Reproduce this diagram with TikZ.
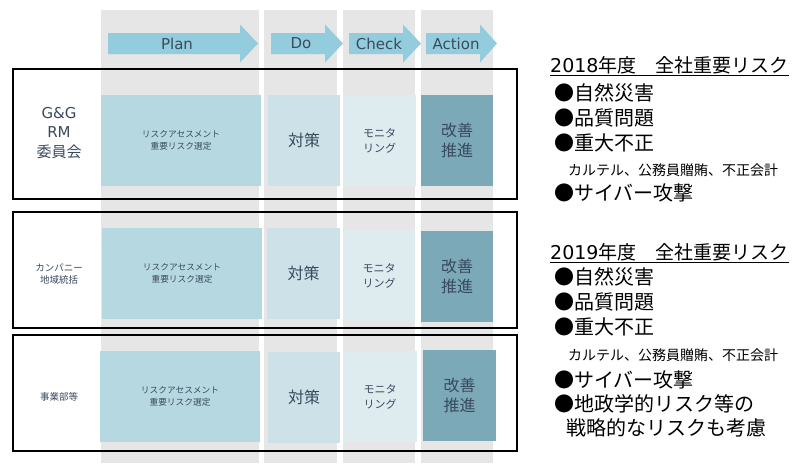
\documentclass[tikz,border=0pt]{standalone}
\usepackage{fontspec}
\setmainfont{Noto Sans CJK JP}
\newfontfamily\dv{DejaVu Sans}
\definecolor{colgray}{HTML}{E6E6E6}
\definecolor{arrowc}{HTML}{93CDDD}
\definecolor{planc}{HTML}{B6D8E1}
\definecolor{doc}{HTML}{CCE2E8}
\definecolor{checkc}{HTML}{DEEBEF}
\definecolor{actc}{HTML}{7BA9B7}
\definecolor{txtc}{HTML}{3A4A5E}
\tikzset{
  colbg/.style={fill=colgray, draw=none},
  frame/.style={draw=black, line width=1.8pt},
  cell/.style={draw=none, inner sep=0pt, outer sep=0pt, text=txtc, align=center},
  lbl/.style={text=txtc, align=center, inner sep=0pt},
  rtxt/.style={anchor=west, inner sep=0pt, text=black},
  small/.style={font=\fontsize{8.7}{11.5}\selectfont},
  mon/.style={font=\fontsize{11}{15}\selectfont},
  big/.style={font=\fontsize{16}{20}\selectfont},
}
\newcommand{\pdcaarrow}[5]{% name, x0, xh, xt, label
  \fill[arrowc] (#2,33) -- (#3,33) -- (#3,24.5) -- (#4,43.5) -- (#3,62.5) -- (#3,54) -- (#2,54) -- cycle;
  \node[lbl, font=\dv\fontsize{15}{15}\selectfont] (#1) at ({(#2+#3)/2+3},43.5) {#5};
}
\begin{document}
\begin{tikzpicture}[x=1pt, y=-1pt]
\useasboundingbox (0,0) rectangle (794,463);
% gray columns
\fill[colbg] (101,10) rectangle (259,463);
\fill[colbg] (264,10) rectangle (337,463);
\fill[colbg] (343,10) rectangle (415,463);
\fill[colbg] (421,10) rectangle (493,463);
% arrows
\pdcaarrow{plan}{108}{240}{258}{Plan}
\pdcaarrow{do}{271}{325}{343}{Do}
\pdcaarrow{check}{349}{403}{421}{Check}
\pdcaarrow{action}{426}{480}{497}{Action}
% frames
\node[frame, minimum width=504pt, minimum height=130pt, inner sep=0pt] (row1) at (265,134) {};
\node[frame, minimum width=504pt, minimum height=116pt, inner sep=0pt] (row2) at (265,270) {};
\node[frame, minimum width=504pt, minimum height=116pt, inner sep=0pt] (row3) at (265,393) {};
% row 1
\node[cell, small, fill=planc, minimum width=160pt, minimum height=91pt] (p1) at (181,140.5) {リスクアセスメント\\重要リスク選定};
\node[cell, big, fill=doc, minimum width=72pt, minimum height=91pt] (d1) at (304,140.5) {対策};
\node[cell, mon, fill=checkc, minimum width=73pt, minimum height=91pt] (c1) at (379.5,140.5) {モニタ\\リング};
\node[cell, big, fill=actc, minimum width=72pt, minimum height=91pt] (a1) at (457,140.5) {改善\\推進};
% row 2
\node[cell, small, fill=planc, minimum width=160pt, minimum height=91pt] (p2) at (182,273.5) {リスクアセスメント\\重要リスク選定};
\node[cell, big, fill=doc, minimum width=73pt, minimum height=91pt] (d2) at (303.5,273.5) {対策};
\node[cell, mon, fill=checkc, minimum width=72pt, minimum height=91pt] (c2) at (379,275.5) {モニタ\\リング};
\node[cell, big, fill=actc, minimum width=72pt, minimum height=91pt] (a2) at (457,276.5) {改善\\推進};
% row 3
\node[cell, small, fill=planc, minimum width=160pt, minimum height=91pt] (p3) at (180,396.5) {リスクアセスメント\\重要リスク選定};
\node[cell, big, fill=doc, minimum width=72pt, minimum height=91pt] (d3) at (304,397.5) {対策};
\node[cell, mon, fill=checkc, minimum width=74pt, minimum height=91pt] (c3) at (380,396.5) {モニタ\\リング};
\node[cell, big, fill=actc, minimum width=73pt, minimum height=91pt] (a3) at (459.5,395.5) {改善\\推進};
% row labels
\node[lbl, font=\fontsize{15}{19.5}\selectfont] (l1) at (59,133) {{\dv G\&G}\\{\dv RM}\\委員会};
\node[lbl, font=\fontsize{9.5}{12.5}\selectfont] (l2) at (59,274) {カンパニー\\地域統括};
\node[lbl, font=\fontsize{9.5}{12.5}\selectfont] (l3) at (59,397) {事業部等};
% right side 2018
\node[rtxt, font=\fontsize{19}{19}\selectfont] (h18) at (550,65) {{\dv 2018}年度　全社重要リスク};
\draw[line width=0.8pt] (h18.south west) ++(0,1) -- ([yshift=-1pt]h18.south east);
\node[rtxt, font=\fontsize{20}{20}\selectfont] (a18) at (554,93) {●自然災害};
\node[rtxt, font=\fontsize{20}{20}\selectfont] (b18) at (554,118) {●品質問題};
\node[rtxt, font=\fontsize{20}{20}\selectfont] (c18) at (554,143) {●重大不正};
\node[rtxt, font=\fontsize{14}{14}\selectfont] (d18) at (568,170) {カルテル、公務員贈賄、不正会計};
\node[rtxt, font=\fontsize{20}{20}\selectfont] (e18) at (554,193) {●サイバー攻撃};
% right side 2019
\node[rtxt, font=\fontsize{19}{19}\selectfont] (h19) at (550,252) {{\dv 2019}年度　全社重要リスク};
\draw[line width=0.8pt] (h19.south west) ++(0,1) -- ([yshift=-1pt]h19.south east);
\node[rtxt, font=\fontsize{20}{20}\selectfont] (a19) at (554,277) {●自然災害};
\node[rtxt, font=\fontsize{20}{20}\selectfont] (b19) at (554,302) {●品質問題};
\node[rtxt, font=\fontsize{20}{20}\selectfont] (c19) at (554,327) {●重大不正};
\node[rtxt, font=\fontsize{14}{14}\selectfont] (d19) at (568,355) {カルテル、公務員贈賄、不正会計};
\node[rtxt, font=\fontsize{20}{20}\selectfont] (e19) at (554,380) {●サイバー攻撃};
\node[rtxt, font=\fontsize{20}{20}\selectfont] (f19) at (554,404) {●地政学的リスク等の};
\node[rtxt, font=\fontsize{20}{20}\selectfont] (g19) at (566,428) {戦略的なリスクも考慮};
\end{tikzpicture}
\end{document}
